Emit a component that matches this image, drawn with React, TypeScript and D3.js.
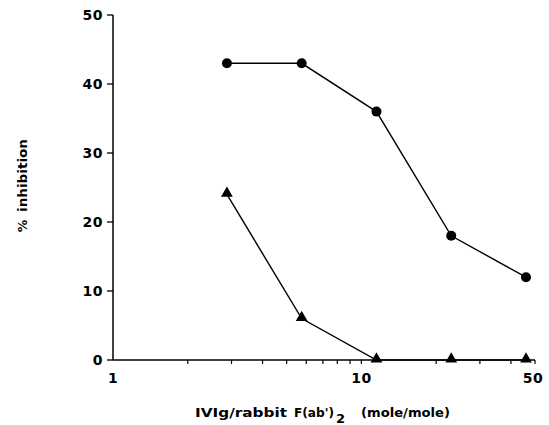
import React from 'react';
import * as d3 from 'd3';

// ratio IVIg / rabbit F(ab')2 (mole/mole)
const ratios = [2.875, 5.75, 11.5, 23, 46];
const circleSeries = [43, 43, 36, 18, 12];
const triangleSeries = [24, 6, 0, 0, 0];
const yTicks = [0, 10, 20, 30, 40, 50];
const xLabels = [1, 10, 50];
const xMinor = [2, 3, 4, 5, 6, 7, 8, 9, 20, 30, 40];

const W = 549;
const H = 425;
const font = '"DejaVu Sans", "Liberation Sans", Arial, sans-serif';

export default function App() {
  const x = d3.scaleLog().domain([1, 50]).range([113, 535]);
  const y = d3.scaleLinear().domain([0, 50]).range([360, 15]);

  const line = d3.line<number>()
    .x((_, i) => x(ratios[i]))
    .y(d => y(d));

  const tri = d3.symbol().type(d3.symbolTriangle).size(60)();

  return (
    <svg
      width={W}
      height={H}
      style={{ position: 'absolute', left: 0, top: 0, background: '#fff' }}
      fontFamily={font}
      fontWeight="bold"
    >
      {/* y axis */}
      <line x1={x(1)} x2={x(1)} y1={y(50)} y2={y(0)} stroke="#000" strokeWidth={1.5} />
      {yTicks.map(t => (
        <g key={t}>
          <line x1={x(1) - 6} x2={x(1)} y1={y(t)} y2={y(t)} stroke="#000" strokeWidth={1.3} />
          <text x={103} y={y(t)} dy="0.36em" textAnchor="end" fontSize={14} letterSpacing={0.5}>
            {t}
          </text>
        </g>
      ))}

      {/* x axis */}
      <line x1={x(1)} x2={x(50)} y1={y(0)} y2={y(0)} stroke="#000" strokeWidth={1.5} />
      {xMinor.concat([10, 50]).map(t => (
        <line key={t} x1={x(t)} x2={x(t)} y1={y(0)} y2={y(0) + 4} stroke="#000" strokeWidth={1.2} />
      ))}
      {xLabels.map(t => (
        <text key={t} x={t === 50 ? x(t) - 2 : x(t)} y={383} textAnchor="middle" fontSize={14} letterSpacing={0.5}>
          {t}
        </text>
      ))}

      {/* axis titles */}
      <text y={417} fontSize={12.5}>
        <tspan x={195} textLength={92} lengthAdjust="spacingAndGlyphs">IVIg/rabbit</tspan>
        <tspan x={294} textLength={40} lengthAdjust="spacingAndGlyphs">F(ab')</tspan>
        <tspan x={336} dy={6} fontSize={13}>2</tspan>
        <tspan x={361} dy={-6} textLength={89} lengthAdjust="spacingAndGlyphs">(mole/mole)</tspan>
      </text>
      <g transform="translate(27,0) rotate(-90)">
        <text x={-175.5} y={0} textAnchor="middle" fontSize={12.5} textLength={73} lengthAdjust="spacingAndGlyphs">
          inhibition
        </text>
        <text x={-226} y={0} textAnchor="middle" fontSize={12.5}>
          %
        </text>
      </g>

      {/* circle series */}
      <path d={line(circleSeries) || ''} fill="none" stroke="#000" strokeWidth={1.4} />
      {circleSeries.map((v, i) => (
        <circle key={i} cx={x(ratios[i])} cy={y(v)} r={5} fill="#000" />
      ))}

      {/* triangle series */}
      <path d={line(triangleSeries) || ''} fill="none" stroke="#000" strokeWidth={1.4} />
      {triangleSeries.map((v, i) => (
        <path key={i} d={tri || ''} transform={`translate(${x(ratios[i])},${y(v) - 1})`} fill="#000" />
      ))}
    </svg>
  );
}
